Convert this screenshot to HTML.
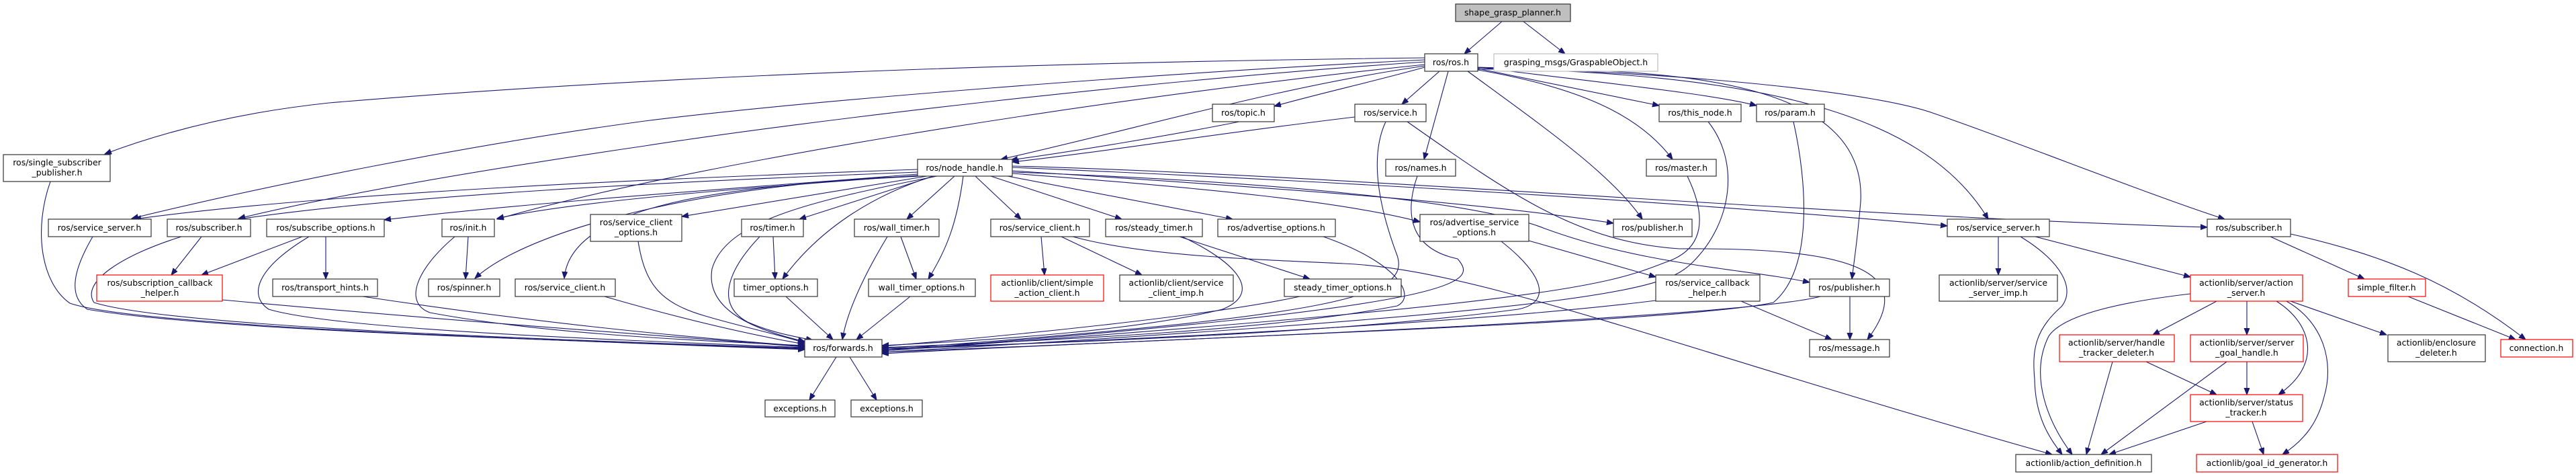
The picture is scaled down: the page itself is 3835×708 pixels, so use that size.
<!DOCTYPE html>
<html><head><meta charset="utf-8"><style>
html,body{margin:0;padding:0;background:#fff;width:3835px;height:708px;overflow:hidden}
svg{display:block}
text{font-family:"DejaVu Sans","Liberation Sans",sans-serif;font-size:12.5px;fill:#000;text-anchor:middle}
.e{fill:none;stroke:#191970;stroke-width:1.1;marker-end:url(#a)}
.n{fill:#fff;stroke:#333;stroke-width:1.2}
.r{fill:#fff;stroke:#ff0000;stroke-width:1.2}
</style></head><body>
<svg width="3835" height="708" viewBox="0 0 3835 708" xmlns="http://www.w3.org/2000/svg">
<defs><marker id="a" markerUnits="userSpaceOnUse" markerWidth="11" markerHeight="9" refX="10" refY="4" orient="auto"><path d="M0,0 L10,4 L0,8 z" fill="#191970" stroke="#191970"/></marker></defs>
<g>
<path class="e" d="M2236,32 L2180,80"/>
<path class="e" d="M2268,32 L2330,80"/>
<path class="e" d="M2121,86 C1600,92 1000,110 490,153 C330,170 220,205 156,229"/>
<path class="e" d="M2121,89 C1700,110 1200,150 960,180 C700,215 400,275 196,325"/>
<path class="e" d="M2121,92 C1700,120 1200,180 960,217 C700,255 500,290 355,325"/>
<path class="e" d="M2121,96 C1600,150 1000,250 740,326"/>
<path class="e" d="M2121,98 C1900,130 1700,190 1490,237"/>
<path class="e" d="M2121,100 C2050,120 1960,140 1897,158"/>
<path class="e" d="M2143,106 L2087,155"/>
<path class="e" d="M2156,106 L2120,237"/>
<path class="e" d="M2185,106 C2300,190 2400,260 2445,326"/>
<path class="e" d="M2200,102 L2470,157"/>
<path class="e" d="M2200,100 C2400,125 2550,140 2615,157"/>
<path class="e" d="M2200,104 C2350,130 2440,170 2490,237"/>
<path class="e" d="M2200,103 C2500,100 2780,120 2770,300 C2765,360 2760,390 2757,415"/>
<path class="e" d="M2200,101 C2600,110 2860,160 2960,326"/>
<path class="e" d="M2200,100 C2550,110 2800,140 2880,169 C3000,210 3200,290 3312,326"/>
<path class="e" d="M1845,181 C1750,200 1600,225 1505,238"/>
<path class="e" d="M2017,174 C1800,200 1650,225 1507,241"/>
<path class="e" d="M2063,181 C2040,230 2050,300 2080,380 C2100,440 2000,470 1313,520"/>
<path class="e" d="M2095,181 C2250,290 2350,360 2500,370 C2750,368 2860,400 2780,505"/>
<path class="e" d="M2110,262 C2090,320 2100,370 2170,385 C2200,420 2200,455 1313,522"/>
<path class="e" d="M2512,262 C2540,320 2540,370 2480,390 C2400,420 2350,450 1313,522"/>
<path class="e" d="M2543,181 C2590,240 2580,330 2520,390 C2480,430 2400,460 1313,524"/>
<path class="e" d="M2670,181 C2690,270 2700,400 2640,450 C2500,480 1800,500 1313,526"/>
<path class="e" d="M2710,441 C2600,470 1900,500 1313,524"/>
<path class="e" d="M2754,441 L2754,505"/>
<path class="e" d="M2465,447 C2200,480 1700,505 1313,520"/>
<path class="e" d="M2592,448 L2727,505"/>
<path class="e" d="M2235,359 C2300,410 2310,450 2260,460 C2000,495 1600,510 1313,518"/>
<path class="e" d="M2276,358 L2465,412"/>
<path class="e" d="M1970,352 C2080,390 2110,440 2080,455 C1900,490 1600,505 1313,517"/>
<path class="e" d="M1935,441 C1800,470 1500,500 1313,515"/>
<path class="e" d="M1756,352 L1950,415"/>
<path class="e" d="M1760,352 C1860,400 1870,440 1820,460 C1700,490 1500,505 1313,514"/>
<path class="e" d="M1550,352 L1555,409"/>
<path class="e" d="M1580,352 L1700,409"/>
<path class="e" d="M1597,352 C1700,380 1850,385 2000,392 C2200,400 2500,520 3055,676"/>
<path class="e" d="M1151,352 L1154,415"/>
<path class="e" d="M1131,352 C1090,395 1060,450 1113,479 C1150,495 1180,500 1210,506"/>
<path class="e" d="M1341,352 L1364,415"/>
<path class="e" d="M1321,352 C1280,420 1260,470 1254,505"/>
<path class="e" d="M1170,441 L1240,505"/>
<path class="e" d="M1355,441 L1275,505"/>
<path class="e" d="M1366,252 C1000,265 500,285 200,326"/>
<path class="e" d="M1366,256 C1000,270 600,290 355,326"/>
<path class="e" d="M1366,259 C1100,280 800,300 572,327"/>
<path class="e" d="M1366,261 C1100,280 850,300 740,325"/>
<path class="e" d="M1366,262 C1100,270 800,330 707,414"/>
<path class="e" d="M1370,262 C1100,275 850,300 840,414"/>
<path class="e" d="M1380,262 L1015,322"/>
<path class="e" d="M1390,262 L1190,326"/>
<path class="e" d="M1389,262 C1300,290 1220,340 1165,415"/>
<path class="e" d="M1421,262 L1350,326"/>
<path class="e" d="M1434,262 C1425,330 1410,370 1382,415"/>
<path class="e" d="M1452,262 L1520,326"/>
<path class="e" d="M1475,262 L1670,326"/>
<path class="e" d="M1500,262 L1835,326"/>
<path class="e" d="M1395,262 C1200,300 1080,330 1060,400 C1050,460 1120,490 1198,508"/>
<path class="e" d="M1507,258 C1800,280 2000,300 2114,330"/>
<path class="e" d="M1507,254 C1900,280 2200,300 2402,332"/>
<path class="e" d="M1507,249 C2000,270 2500,300 2899,336"/>
<path class="e" d="M1507,247 C2000,260 2700,320 3286,338"/>
<path class="e" d="M1507,256 C1900,270 2200,300 2300,340 C2450,395 2600,400 2694,420"/>
<path class="e" d="M75,270 C50,340 60,420 104,451 C200,485 800,505 1198,520"/>
<path class="e" d="M138,352 C110,400 100,440 130,460 C300,490 800,505 1198,519"/>
<path class="e" d="M300,352 L255,409"/>
<path class="e" d="M270,352 C180,380 120,420 140,450 C250,485 800,505 1198,518"/>
<path class="e" d="M450,352 L300,409"/>
<path class="e" d="M485,352 L485,415"/>
<path class="e" d="M460,352 C380,400 370,440 400,460 C500,490 900,505 1198,517"/>
<path class="e" d="M331,446 C700,480 1000,500 1198,516"/>
<path class="e" d="M540,441 C800,480 1000,500 1198,515"/>
<path class="e" d="M697,352 L693,415"/>
<path class="e" d="M677,352 C620,400 600,450 640,465 C800,495 1000,505 1198,514"/>
<path class="e" d="M900,441 C1000,470 1100,495 1198,512"/>
<path class="e" d="M950,359 C960,420 980,450 1050,470 C1100,485 1150,495 1198,510"/>
<path class="e" d="M1245,531 L1205,595"/>
<path class="e" d="M1265,531 L1305,595"/>
<path class="e" d="M2975,352 L2975,409"/>
<path class="e" d="M3030,352 L3261,412"/>
<path class="e" d="M3008,352 C3070,390 3090,430 3069,456 C3030,490 3025,520 3029,564 C3030,620 3050,650 3070,676"/>
<path class="e" d="M3261,437 C3150,450 3070,470 3050,500 C3020,560 3050,630 3085,676"/>
<path class="e" d="M3300,448 L3205,498"/>
<path class="e" d="M3345,448 L3345,498"/>
<path class="e" d="M3410,448 L3553,498"/>
<path class="e" d="M3389,448 C3440,480 3460,540 3392,587"/>
<path class="e" d="M3404,448 C3460,480 3475,540 3460,590 C3450,630 3430,655 3398,676"/>
<path class="e" d="M3195,538 L3300,587"/>
<path class="e" d="M3145,538 L3106,676"/>
<path class="e" d="M3345,538 L3345,587"/>
<path class="e" d="M3315,538 L3128,676"/>
<path class="e" d="M3285,627 L3140,676"/>
<path class="e" d="M3353,627 L3370,676"/>
<path class="e" d="M3380,352 L3520,415"/>
<path class="e" d="M3410,348 C3550,380 3650,420 3760,505"/>
<path class="e" d="M3585,441 L3745,505"/>
</g>
<g>
<rect x="2167" y="6" width="171" height="26" fill="#bfbfbf" stroke="#333" stroke-width="1.2"/><text x="2252" y="23">shape_grasp_planner.h</text>
<rect class="n" x="2121" y="80" width="79" height="26"/><text x="2160" y="97">ros/ros.h</text>
<rect x="2224" y="80" width="244" height="26" fill="#fff" stroke="#bfbfbf" stroke-width="1.2"/><text x="2346" y="97">grasping_msgs/GraspableObject.h</text>
<rect class="n" x="5" y="230" width="159" height="40"/><text x="85" y="246">ros/single_subscriber</text><text x="85" y="261">_publisher.h</text>
<rect class="n" x="72" y="326" width="153" height="26"/><text x="148" y="343">ros/service_server.h</text>
<rect class="n" x="249" y="326" width="124" height="26"/><text x="311" y="343">ros/subscriber.h</text>
<rect class="n" x="397" y="326" width="175" height="26"/><text x="485" y="343">ros/subscribe_options.h</text>
<rect class="n" x="658" y="326" width="78" height="26"/><text x="697" y="343">ros/init.h</text>
<rect class="n" x="879" y="319" width="136" height="40"/><text x="947" y="335">ros/service_client</text><text x="947" y="350">_options.h</text>
<rect class="r" x="144" y="409" width="187" height="39"/><text x="238" y="425">ros/subscription_callback</text><text x="238" y="440">_helper.h</text>
<rect class="n" x="406" y="415" width="156" height="26"/><text x="484" y="432">ros/transport_hints.h</text>
<rect class="n" x="638" y="415" width="106" height="26"/><text x="691" y="432">ros/spinner.h</text>
<rect class="n" x="767" y="415" width="149" height="26"/><text x="841" y="432">ros/service_client.h</text>
<rect class="n" x="1805" y="155" width="92" height="26"/><text x="1851" y="172">ros/topic.h</text>
<rect class="n" x="1366" y="237" width="141" height="25"/><text x="1436" y="254">ros/node_handle.h</text>
<rect class="n" x="1104" y="326" width="92" height="26"/><text x="1150" y="343">ros/timer.h</text>
<rect class="n" x="1272" y="326" width="126" height="26"/><text x="1335" y="343">ros/wall_timer.h</text>
<rect class="n" x="1475" y="326" width="147" height="26"/><text x="1548" y="343">ros/service_client.h</text>
<rect class="n" x="1646" y="326" width="144" height="26"/><text x="1718" y="343">ros/steady_timer.h</text>
<rect class="n" x="1813" y="326" width="175" height="26"/><text x="1900" y="343">ros/advertise_options.h</text>
<rect class="n" x="1093" y="415" width="124" height="26"/><text x="1155" y="432">timer_options.h</text>
<rect class="n" x="1293" y="415" width="159" height="26"/><text x="1372" y="432">wall_timer_options.h</text>
<rect class="r" x="1475" y="409" width="168" height="39"/><text x="1559" y="425">actionlib/client/simple</text><text x="1559" y="440">_action_client.h</text>
<rect class="n" x="1667" y="409" width="169" height="39"/><text x="1751" y="425">actionlib/client/service</text><text x="1751" y="440">_client_imp.h</text>
<rect class="n" x="1912" y="415" width="174" height="26"/><text x="1999" y="432">steady_timer_options.h</text>
<rect class="n" x="1198" y="505" width="115" height="26"/><text x="1255" y="522">ros/forwards.h</text>
<rect class="n" x="1139" y="595" width="104" height="25"/><text x="1191" y="612">exceptions.h</text>
<rect class="n" x="1267" y="595" width="106" height="25"/><text x="1320" y="612">exceptions.h</text>
<rect class="n" x="2017" y="155" width="106" height="26"/><text x="2070" y="172">ros/service.h</text>
<rect class="n" x="2470" y="155" width="122" height="26"/><text x="2531" y="172">ros/this_node.h</text>
<rect class="n" x="2615" y="155" width="101" height="26"/><text x="2665" y="172">ros/param.h</text>
<rect class="n" x="2063" y="237" width="104" height="25"/><text x="2115" y="254">ros/names.h</text>
<rect class="n" x="2451" y="237" width="104" height="25"/><text x="2503" y="254">ros/master.h</text>
<rect class="n" x="2114" y="319" width="162" height="40"/><text x="2195" y="335">ros/advertise_service</text><text x="2195" y="350">_options.h</text>
<rect class="n" x="2402" y="326" width="117" height="26"/><text x="2460" y="343">ros/publisher.h</text>
<rect class="n" x="2465" y="409" width="155" height="39"/><text x="2542" y="425">ros/service_callback</text><text x="2542" y="440">_helper.h</text>
<rect class="n" x="2694" y="415" width="119" height="26"/><text x="2753" y="432">ros/publisher.h</text>
<rect class="n" x="2694" y="505" width="119" height="26"/><text x="2753" y="522">ros/message.h</text>
<rect class="n" x="2899" y="326" width="152" height="26"/><text x="2975" y="343">ros/service_server.h</text>
<rect class="n" x="3286" y="326" width="124" height="26"/><text x="3348" y="343">ros/subscriber.h</text>
<rect class="n" x="2887" y="409" width="176" height="39"/><text x="2975" y="425">actionlib/server/service</text><text x="2975" y="440">_server_imp.h</text>
<rect class="r" x="3261" y="409" width="167" height="39"/><text x="3344" y="425">actionlib/server/action</text><text x="3344" y="440">_server.h</text>
<rect class="r" x="3496" y="415" width="115" height="26"/><text x="3553" y="432">simple_filter.h</text>
<rect class="r" x="3066" y="498" width="171" height="40"/><text x="3151" y="514">actionlib/server/handle</text><text x="3151" y="529">_tracker_deleter.h</text>
<rect class="r" x="3261" y="498" width="168" height="40"/><text x="3345" y="514">actionlib/server/server</text><text x="3345" y="529">_goal_handle.h</text>
<rect class="n" x="3555" y="498" width="145" height="40"/><text x="3627" y="514">actionlib/enclosure</text><text x="3627" y="529">_deleter.h</text>
<rect class="r" x="3723" y="505" width="107" height="26"/><text x="3776" y="522">connection.h</text>
<rect class="r" x="3261" y="587" width="167" height="40"/><text x="3344" y="603">actionlib/server/status</text><text x="3344" y="618">_tracker.h</text>
<rect class="n" x="3001" y="676" width="202" height="26"/><text x="3102" y="693">actionlib/action_definition.h</text>
<rect class="r" x="3270" y="676" width="210" height="26"/><text x="3375" y="693">actionlib/goal_id_generator.h</text>
</g>
</svg>
</body></html>
